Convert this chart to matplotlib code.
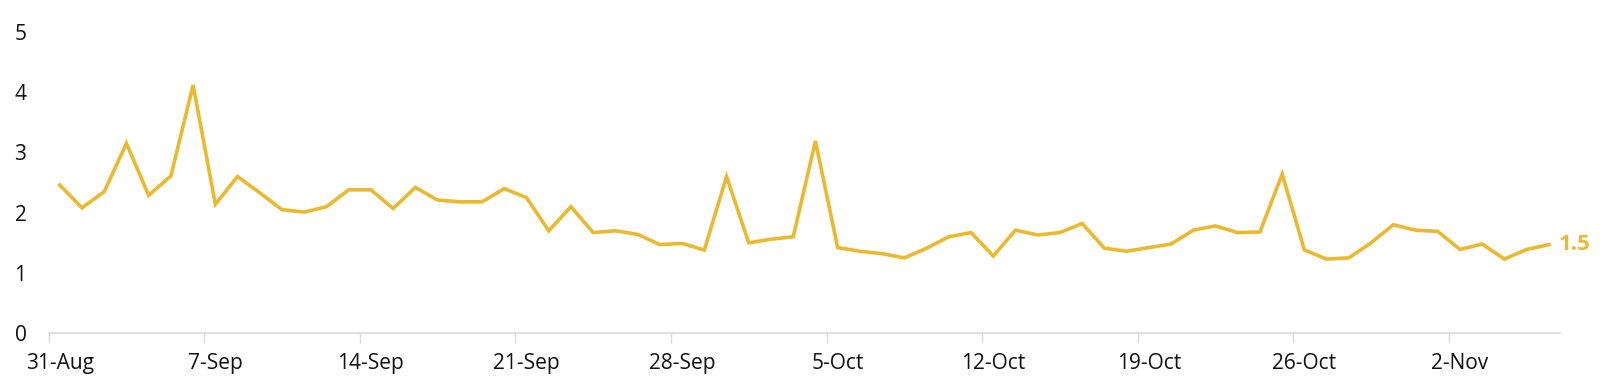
import matplotlib.pyplot as plt
import numpy as np

# daily values, 31-Aug .. 6-Nov
values = [2.46, 2.08, 2.35, 3.15, 2.29, 2.61, 4.12, 2.14, 2.60, 2.33,
          2.05, 2.01, 2.10, 2.38, 2.38, 2.07, 2.42, 2.21, 2.18, 2.18,
          2.40, 2.25, 1.70, 2.10, 1.67, 1.70, 1.64, 1.47, 1.49, 1.38,
          2.60, 1.50, 1.56, 1.60, 3.19, 1.42, 1.36, 1.32, 1.25, 1.41,
          1.60, 1.67, 1.28, 1.71, 1.63, 1.67, 1.82, 1.41, 1.36, 1.42,
          1.48, 1.71, 1.78, 1.67, 1.68, 2.64, 1.38, 1.23, 1.25, 1.50,
          1.80, 1.71, 1.69, 1.39, 1.48, 1.23, 1.39, 1.47]
tick_labels = ['31-Aug', '7-Sep', '14-Sep', '21-Sep', '28-Sep', '5-Oct',
               '12-Oct', '19-Oct', '26-Oct', '2-Nov']
end_label = '1.5'

gold = '#EBB930'
plt.rcParams['font.family'] = ['Open Sans', 'DejaVu Sans']

fig = plt.figure(figsize=(16, 3.91), dpi=100)
ax = fig.add_axes([0.0304, 0.148, 0.9446, 0.770])

x = np.arange(len(values))
ax.plot(x, values, color=gold, lw=2.6, solid_joinstyle='miter')
ax.text(x[-1] + 0.45, values[-1], end_label, color=gold, fontsize=16,
        fontweight='bold', va='center', ha='left')

ax.set_xlim(-0.5, len(values) - 0.5)
ax.set_ylim(0, 5)

# tick marks on category boundaries, labels on category centres
boundaries = np.arange(-0.5, len(values) - 1, 7)
ax.xaxis.set_major_locator(plt.FixedLocator(boundaries))
ax.xaxis.set_major_formatter(plt.NullFormatter())
ax.xaxis.set_minor_locator(plt.FixedLocator(np.arange(0, len(values), 7)))
ax.xaxis.set_minor_formatter(plt.FixedFormatter(tick_labels))
ax.tick_params(axis='x', which='major', length=7, color='#d9d9d9', width=1)
ax.tick_params(axis='x', which='minor', length=0, pad=14, labelsize=15,
               labelcolor='#111111')

ax.set_yticks(range(0, 6))
ax.tick_params(axis='y', length=0, pad=16, labelsize=15, labelcolor='#111111')

for s in ['top', 'right', 'left']:
    ax.spines[s].set_visible(False)
ax.spines['bottom'].set_color('#d9d9d9')
ax.spines['bottom'].set_linewidth(1.2)

fig.savefig('out.png', dpi=100)
